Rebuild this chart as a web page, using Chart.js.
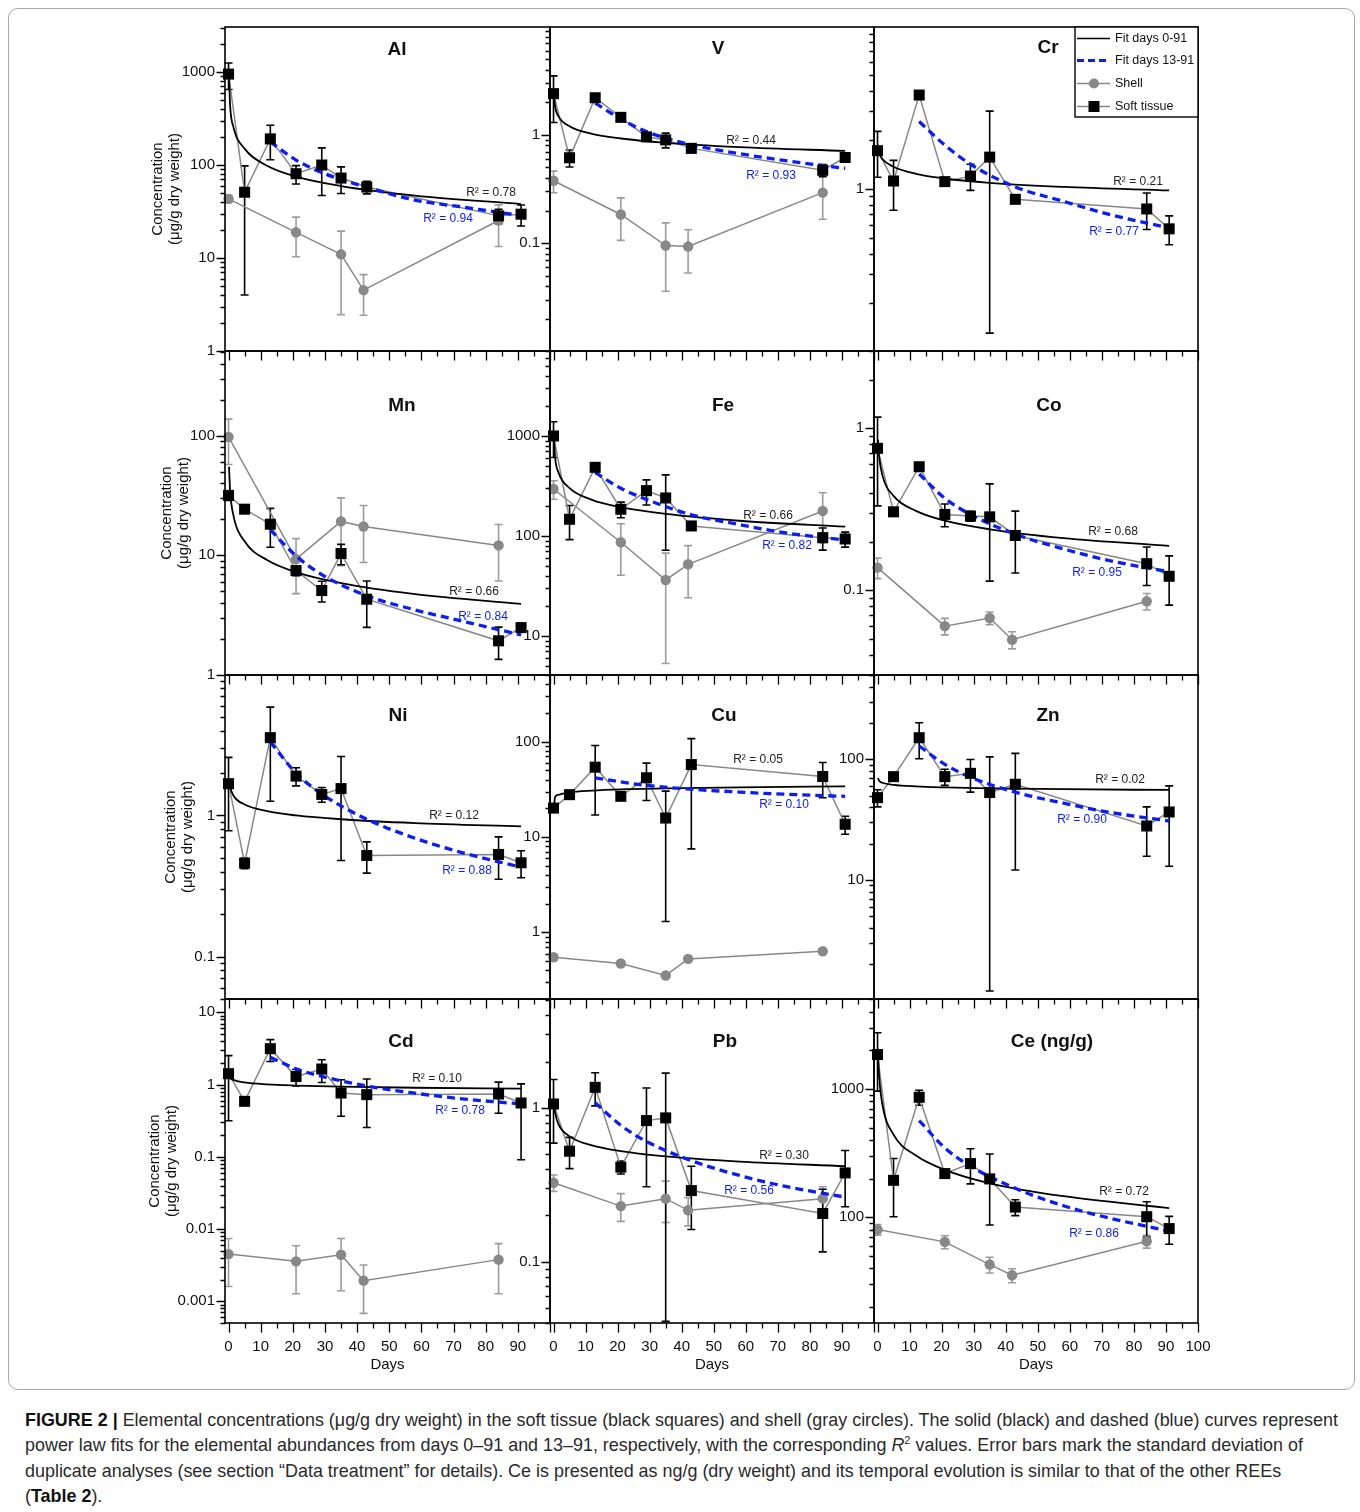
<!DOCTYPE html>
<html><head><meta charset="utf-8">
<script src="https://cdn.jsdelivr.net/npm/chart.js@4.4.1/dist/chart.umd.min.js"></script>
<style>
html,body{margin:0;padding:0;background:#fff;}
body{width:1360px;height:1512px;position:relative;overflow:hidden;font-family:"Liberation Sans",Arial,Helvetica,sans-serif;}
#frame{position:absolute;left:8px;top:8px;width:1347px;height:1382px;border:1.5px solid #a8a8a8;border-radius:10px;box-sizing:border-box;}
canvas{position:absolute;}
#caption{position:absolute;left:25px;top:1408px;font-size:16.6px;line-height:25.3px;color:#2a2a2a;white-space:nowrap;}
#caption b{color:#111;}
</style></head>
<body>
<div id="frame"></div>
<div id="caption">
<div id="cap1"><b>FIGURE 2 |</b> Elemental concentrations (μg/g dry weight) in the soft tissue (black squares) and shell (gray circles). The solid (black) and dashed (blue) curves represent</div>
<div>power law fits for the elemental abundances from days 0–91 and 13–91, respectively, with the corresponding <i>R</i><sup style="font-size:11px;line-height:0">2</sup> values. Error bars mark the standard deviation of</div>
<div>duplicate analyses (see section “Data treatment” for details). Ce is presented as ng/g (dry weight) and its temporal evolution is similar to that of the other REEs</div>
<div>(<b>Table 2</b>).</div>
</div>
<script>
Chart.defaults.font.family = '"Liberation Sans", Arial, Helvetica, sans-serif';
Chart.defaults.color = '#111';

// ---------- shared axes / categories ----------
const tissueDays = [0, 5, 13, 21, 29, 35, 43, 84, 91];
const shellDays = [0, 21, 35, 42, 84];
const fitAllDays = [0.15, 0.5, 1.5, 5, 12, 21, 35, 58, 91];
const fitLateDays = [13, 21, 29, 43, 58, 72, 91];
const xTickValues = [0,5,10,15,20,25,30,35,40,45,50,55,60,65,70,75,80,85,90,95,100];
const decadeLabels = ['0.001','0.01','0.1','1','10','100','1000'];
const decadeMinExp = -3;
const elements = ['Al','V','Cr','Mn','Fe','Co','Ni','Cu','Zn','Cd','Pb','Ce (ng/g)'];
const r2AllValues  = ['0.78','0.44','0.21','0.66','0.66','0.68','0.12','0.05','0.02','0.10','0.30','0.72'];
const r2LateValues = ['0.94','0.93','0.77','0.84','0.82','0.95','0.88','0.10','0.90','0.78','0.56','0.86'];
const legendLabels = ['Fit days 0-91','Fit days 13-91','Shell','Soft tissue'];
const yTitleLines = ['Concentration','(μg/g dry weight)'];

// ---------- Al ----------
const alTissue   = [950, 51, 191, 80.6, 100, 72.4, 58, 28.4, 29.6];
const alTissueSd = [300, 47, 77, 18, 53, 23, 9, 5, 7.5];
const alShell    = [43.3, 18.9, 10.96, 4.52, 25.3];
const alShellSd  = [4, 8.6, 8.5, 2.1, 12];
const alFitAll   = [900, 432, 258, 150, 98, 75, 59.4, 46.9, 38];
const alFitLate  = [177, 113, 83, 57.7, 42, 35.6, 28.6];
// ---------- V ----------
const vTissue   = [2.40, 0.614, 2.20, 1.45, 0.958, 0.898, 0.75, 0.471, 0.618];
const vTissueSd = [1.1, 0.11, 0.15, 0.05, 0.04, 0.14, 0.04, 0.06, 0.02];
const vShell    = [0.377, 0.184, 0.095, 0.093, 0.293];
const vShellSd  = [0.085, 0.078, 0.059, 0.04, 0.127];
const vFitAll   = [2.3, 1.81, 1.49, 1.2, 1.02, 0.925, 0.843, 0.77, 0.71];
const vFitLate  = [1.96, 1.40, 1.07, 0.81, 0.67, 0.58, 0.49];
// ---------- Cr ----------
const crTissue   = [1.72, 1.12, 3.78, 1.11, 1.20, 1.57, 0.864, 0.754, 0.569];
const crTissueSd = [0.54, 0.38, 0, 0, 0.22, 1.44, 0, 0.19, 0.115];
const crShell    = [];
const crShellSd  = [];
const crFitAll   = [1.75, 1.66, 1.53, 1.37, 1.24, 1.16, 1.09, 1.03, 0.98];
const crFitLate  = [2.6, 1.86, 1.42, 1.03, 0.84, 0.70, 0.577];
// ---------- Mn ----------
const mnTissue   = [31.7, 24.3, 18.2, 7.46, 5.08, 10.35, 4.3, 1.93, 2.49];
const mnTissueSd = [3, 0, 6.5, 0.7, 1.0, 2, 1.8, 0.58, 0];
const mnShell    = [97.5, 9.29, 19.2, 17.4, 12.1];
const mnShellSd  = [40, 4.5, 11, 8.7, 6];
const mnFitAll   = [55, 34.2, 21.7, 13.1, 9.13, 7.23, 5.85, 4.74, 3.93];
const mnFitLate  = [16.3, 9.9, 6.9, 4.6, 3.5, 2.85, 2.16];
// ---------- Fe ----------
const feTissue   = [1000, 147, 486, 185, 284, 240, 126, 96.2, 93.3];
const feTissueSd = [390, 55, 0, 33, 80, 168, 0, 24, 16];
const feShell    = [295, 86.5, 36.3, 52.1, 178];
const feShellSd  = [62, 46, 31, 28, 93];
const feFitAll   = [950, 609, 435, 301, 230, 194, 166, 142, 124];
const feFitLate  = [430, 300, 232, 163, 130, 108, 91];
// ---------- Co ----------
const coTissue   = [0.752, 0.305, 0.579, 0.294, 0.287, 0.284, 0.218, 0.146, 0.122];
const coTissueSd = [0.42, 0, 0, 0.047, 0.02, 0.17, 0.09, 0.039, 0.041];
const coShell    = [0.138, 0.0601, 0.0674, 0.0495, 0.0855];
const coShellSd  = [0.02, 0.007, 0.006, 0.006, 0.01];
const coFitAll   = [0.85, 0.673, 0.514, 0.383, 0.309, 0.269, 0.238, 0.21, 0.188];
const coFitLate  = [0.522, 0.37, 0.294, 0.222, 0.18, 0.153, 0.13];
// ---------- Ni ----------
const niTissue   = [1.68, 0.459, 3.56, 1.90, 1.41, 1.55, 0.52, 0.529, 0.462];
const niTissueSd = [0.9, 0.04, 2.3, 0.28, 0.17, 1.07, 0.13, 0.176, 0.1];
const niShell    = [];
const niShellSd  = [];
const niFitAll   = [1.72, 1.585, 1.385, 1.195, 1.073, 1.0, 0.94, 0.883, 0.836];
const niFitLate  = [3.31, 2.0, 1.42, 0.94, 0.69, 0.55, 0.43];
// ---------- Cu ----------
const cuTissue   = [20.1, 27.8, 54, 26.7, 41.8, 15.8, 57.5, 43.1, 13.6];
const cuTissueSd = [1, 0, 37, 0, 17.7, 14.5, 50, 17.3, 2.9];
const cuShell    = [0.548, 0.471, 0.353, 0.527, 0.634];
const cuShellSd  = [0.04, 0.03, 0.01, 0.03, 0.04];
const cuFitAll   = [21, 26.3, 27.7, 29.4, 30.7, 31.6, 32.3, 33.2, 33.9];
const cuFitLate  = [41.8, 37.8, 34.8, 31.7, 29.6, 28.1, 26.7];
// ---------- Zn ----------
const znTissue   = [48.1, 71.8, 151, 71.8, 76.5, 53, 62.1, 28, 36.6];
const znTissueSd = [7.8, 4, 50, 11, 23, 51.8, 50, 12.3, 23.6];
const znShell    = [];
const znShellSd  = [];
const znFitAll   = [70, 66.3, 63.9, 61.4, 59.6, 58.5, 57.5, 56.5, 55.7];
const znFitLate  = [129, 90.7, 71, 53.4, 43.3, 36.5, 30.8];
// ---------- Cd ----------
const cdTissue   = [1.415, 0.586, 3.14, 1.29, 1.64, 0.764, 0.725, 0.74, 0.556];
const cdTissueSd = [1.1, 0, 1.05, 0.33, 0.57, 0.4, 0.47, 0.34, 0.465];
const cdShell    = [0.0045, 0.00357, 0.0044, 0.00193, 0.00377];
const cdShellSd  = [0.0029, 0.0023, 0.003, 0.00125, 0.0025];
const cdFitAll   = [1.41, 1.25, 1.16, 1.07, 1.006, 0.969, 0.935, 0.903, 0.876];
const cdFitLate  = [2.38, 1.65, 1.30, 0.955, 0.76, 0.64, 0.538];
// ---------- Pb ----------
const pbTissue   = [1.06, 0.523, 1.36, 0.412, 0.827, 0.861, 0.29, 0.206, 0.378];
const pbTissueSd = [0.47, 0.12, 0.33, 0.04, 0.52, 0.82, 0.128, 0.09, 0.15];
const pbShell    = [0.326, 0.23, 0.257, 0.216, 0.257];
const pbShellSd  = [0.04, 0.047, 0.077, 0.045, 0.05];
const pbFitAll   = [1.06, 0.932, 0.786, 0.653, 0.571, 0.524, 0.484, 0.448, 0.418];
const pbFitLate  = [1.08, 0.77, 0.605, 0.454, 0.364, 0.31, 0.263];
// ---------- Ce (ng/g) ----------
const ceTissue   = [1852, 194, 861, 219, 262, 199, 120, 101, 81.6];
const ceTissueSd = [890, 93, 115, 0, 80, 112, 17, 31, 20];
const ceShell    = [80.2, 64.3, 42.8, 35.3, 65];
const ceShellSd  = [7.6, 7.5, 6, 4.4, 7.5];
const ceFitAll   = [1850, 1250, 760, 440, 303, 234, 184, 146, 118];
const ceFitLate  = [566, 347, 250, 168, 123, 99, 78];

// axis ranges (log y) per panel
const yMins = [1, 0.0101, 0.101, 1, 4.07, 0.03, 0.05, 0.2, 1.03, 0.0005, 0.04, 15];
const yMaxs = [3050, 9.9, 9.9, 510, 7080, 3, 9.9, 500, 500, 15.3, 5.1, 5020];

const tissueSets = [alTissue,vTissue,crTissue,mnTissue,feTissue,coTissue,niTissue,cuTissue,znTissue,cdTissue,pbTissue,ceTissue];
const tissueSdSets = [alTissueSd,vTissueSd,crTissueSd,mnTissueSd,feTissueSd,coTissueSd,niTissueSd,cuTissueSd,znTissueSd,cdTissueSd,pbTissueSd,ceTissueSd];
const shellSets = [alShell,vShell,crShell,mnShell,feShell,coShell,niShell,cuShell,znShell,cdShell,pbShell,ceShell];
const shellSdSets = [alShellSd,vShellSd,crShellSd,mnShellSd,feShellSd,coShellSd,niShellSd,cuShellSd,znShellSd,cdShellSd,pbShellSd,ceShellSd];
const fitAllSets = [alFitAll,vFitAll,crFitAll,mnFitAll,feFitAll,coFitAll,niFitAll,cuFitAll,znFitAll,cdFitAll,pbFitAll,ceFitAll];
const fitLateSets = [alFitLate,vFitLate,crFitLate,mnFitLate,feFitLate,coFitLate,niFitLate,cuFitLate,znFitLate,cdFitLate,pbFitLate,ceFitLate];

// ---------- layout (pixels) ----------
const colLeft = [225, 550, 874];
const colWidth = [325, 324, 324];
const rowTop = [27, 351, 675, 999];
const panelH = 324;
const titleOffsets = [[172,23],[168,22],[174,21],[177,55],[173,55],[175,55],[173,41],[174,41],[174,41],[176,43],[175,43],[178,43]];
const r2AllOffsets = [[266,166],[201,114],[264,155],[249,241],[218,165],[239,181],[229,141],[208,85],[246,105],[212,80],[234,157],[250,193]];
const r2LateOffsets = [[223,192],[221,149],[240,205],[258,266],[237,195],[223,222],[242,196],[234,130],[208,145],[235,112],[199,192],[220,235]];
const yTitlePad = [4.5, 13.5, 17.5, 1.5];

const GRAY = '#888888';
const EGRAY = '#9c9c9c';
const BLUE = '#0a1ef2';
const FONT = '"Liberation Sans", Arial, Helvetica, sans-serif';

function logTicks(min, max) {
  const out = [];
  for (let e = Math.floor(Math.log10(min)) - 1; e <= Math.ceil(Math.log10(max)); e++) {
    for (let m = 1; m <= 9; m++) {
      const v = m * Math.pow(10, e);
      if (v >= min * 0.99999 && v <= max * 1.00001) out.push({value: v});
    }
  }
  return out;
}
function decadeLabel(v) {
  const e = Math.round(Math.log10(v));
  if (Math.abs(v / Math.pow(10, e) - 1) > 1e-6) return '';
  return decadeLabels[e - decadeMinExp] || '';
}
function isDecade(v) { return decadeLabel(v) !== ''; }
const pts = (xs, ys) => ys.map((y, i) => ({x: xs[i], y}));

function drawErrors(ctx, xs, ys, area, days, vals, sds, color) {
  ctx.strokeStyle = color; ctx.lineWidth = 1.6;
  for (let i = 0; i < vals.length; i++) {
    const sd = sds[i];
    if (!sd) continue;
    const x = xs.getPixelForValue(days[i]);
    const hi = vals[i] + sd, lo = vals[i] - sd;
    const yT = ys.getPixelForValue(hi);
    const yB = lo > 0 ? ys.getPixelForValue(lo) : area.bottom + 5;
    ctx.beginPath();
    ctx.moveTo(x, yT); ctx.lineTo(x, yB);
    ctx.moveTo(x - 4, yT); ctx.lineTo(x + 4, yT);
    ctx.moveTo(x - 4, yB); ctx.lineTo(x + 4, yB);
    ctx.stroke();
  }
}

function makePlugin(k, col, row) {
  return {
    id: 'deco' + k,
    beforeDatasetsDraw(chart) {
      const {ctx, chartArea: a, scales: {x, y}} = chart;
      ctx.save();
      ctx.beginPath(); ctx.rect(a.left - 6, a.top, a.right - a.left + 12, a.bottom - a.top); ctx.clip();
      drawErrors(ctx, x, y, a, shellDays, shellSets[k], shellSdSets[k], EGRAY);
      drawErrors(ctx, x, y, a, tissueDays, tissueSets[k], tissueSdSets[k], '#000');
      ctx.restore();
    },
    afterDraw(chart) {
      const {ctx, chartArea: a, scales: {x, y}} = chart;
      ctx.save();
      ctx.strokeStyle = '#000'; ctx.lineWidth = 1.6;
      ctx.strokeRect(a.left, a.top, a.right - a.left, a.bottom - a.top);
      ctx.lineWidth = 1.3;
      ctx.beginPath();
      y.ticks.forEach(t => {
        const py = Math.round(y.getPixelForValue(t.value)) + 0.5;
        const len = isDecade(t.value) ? 8.5 : 4.5;
        ctx.moveTo(a.left - len, py); ctx.lineTo(a.left, py);
      });
      xTickValues.forEach(v => {
        const px = Math.round(x.getPixelForValue(v)) + 0.5;
        const len = v % 10 === 0 ? 9.5 : 5.5;
        ctx.moveTo(px, a.bottom); ctx.lineTo(px, a.bottom + len);
      });
      ctx.stroke();
      ctx.fillStyle = '#111';
      ctx.font = 'bold 19px ' + FONT;
      ctx.textAlign = 'center'; ctx.textBaseline = 'middle';
      ctx.fillText(elements[k], a.left + titleOffsets[k][0], a.top + titleOffsets[k][1]);
      ctx.font = '12px ' + FONT;
      ctx.fillStyle = '#222';
      ctx.fillText('R\u00b2 = ' + r2AllValues[k], a.left + r2AllOffsets[k][0], a.top + r2AllOffsets[k][1]);
      ctx.fillStyle = BLUE;
      ctx.fillText('R\u00b2 = ' + r2LateValues[k], a.left + r2LateOffsets[k][0], a.top + r2LateOffsets[k][1]);
      if (k === 2) {
        const L = a.left + 201, T = a.top, W = a.right - L, H = 90;
        ctx.fillStyle = '#fff'; ctx.fillRect(L, T, W, H);
        ctx.strokeStyle = '#000'; ctx.lineWidth = 1.4; ctx.strokeRect(L, T, W, H);
        const rows = [11.5, 33.5, 56.5, 79.5];
        const x0 = L + 2, x1 = L + 35, xm = L + 19;
        ctx.setLineDash([]); ctx.strokeStyle = '#000'; ctx.lineWidth = 1.5;
        ctx.beginPath(); ctx.moveTo(x0, T + rows[0]); ctx.lineTo(x1, T + rows[0]); ctx.stroke();
        ctx.setLineDash([7, 4]); ctx.strokeStyle = BLUE; ctx.lineWidth = 3;
        ctx.beginPath(); ctx.moveTo(x0, T + rows[1]); ctx.lineTo(x1, T + rows[1]); ctx.stroke();
        ctx.setLineDash([]);
        ctx.strokeStyle = GRAY; ctx.lineWidth = 1.5;
        ctx.beginPath(); ctx.moveTo(x0, T + rows[2]); ctx.lineTo(x1, T + rows[2]); ctx.stroke();
        ctx.fillStyle = GRAY; ctx.beginPath(); ctx.arc(xm, T + rows[2], 5, 0, Math.PI * 2); ctx.fill();
        ctx.beginPath(); ctx.moveTo(x0, T + rows[3]); ctx.lineTo(x1, T + rows[3]); ctx.stroke();
        ctx.fillStyle = '#000'; ctx.fillRect(xm - 5.5, T + rows[3] - 5.5, 11, 11);
        ctx.fillStyle = '#111'; ctx.font = '12.5px ' + FONT; ctx.textAlign = 'left';
        legendLabels.forEach((s, i) => ctx.fillText(s, L + 40, T + rows[i]));
      }
      ctx.restore();
    }
  };
}

function makePanel(k) {
  const col = k % 3, row = Math.floor(k / 3);
  const PL = colLeft[col], PT = rowTop[row], PW = colWidth[col];
  const ML = 80, MR = 30, MT = 26, MB = row === 3 ? 51 : 24;
  const cv = document.createElement('canvas');
  cv.width = PW + ML + MR; cv.height = panelH + MT + MB;
  cv.style.left = (PL - ML) + 'px'; cv.style.top = (PT - MT) + 'px';
  cv.style.width = cv.width + 'px'; cv.style.height = cv.height + 'px';
  document.body.appendChild(cv);
  const ymin = yMins[k], ymax = yMaxs[k];
  const fit = {xH: MB, yW: ML};
  const chart = new Chart(cv, {
    type: 'scatter',
    data: {
      datasets: [
        {label: 'Soft tissue', data: pts(tissueDays, tissueSets[k]), showLine: false, pointStyle: 'rect', pointRadius: 7.8,
         pointBackgroundColor: '#000', pointBorderColor: '#000', pointBorderWidth: 0, clip: 10},
        {label: 'Fit days 13-91', data: pts(fitLateDays, fitLateSets[k]), showLine: true, pointRadius: 0, borderColor: BLUE,
         borderWidth: 3.3, borderDash: [8, 5], cubicInterpolationMode: 'monotone', clip: 4},
        {label: 'Fit days 0-91', data: pts(fitAllDays, fitAllSets[k]), showLine: true, pointRadius: 0, borderColor: '#000',
         borderWidth: 1.8, cubicInterpolationMode: 'monotone', clip: 4},
        {label: 'tissue-line', data: pts(tissueDays, tissueSets[k]), showLine: true, pointRadius: 0, borderColor: GRAY,
         borderWidth: 1.5, clip: 4},
        {label: 'Shell', data: pts(shellDays, shellSets[k]), showLine: true, pointRadius: 5.2, pointStyle: 'circle',
         pointBackgroundColor: GRAY, pointBorderColor: GRAY, pointBorderWidth: 0, borderColor: GRAY, borderWidth: 1.5, clip: 10}
      ]
    },
    options: {
      responsive: false, animation: false, devicePixelRatio: 1, events: [],
      layout: {padding: {left: 0, top: MT, right: MR, bottom: 0}},
      plugins: {legend: {display: false}, tooltip: {enabled: false}},
      scales: {
        x: {
          type: 'linear', min: -1.1, max: 100,
          afterBuildTicks: s => { s.ticks = xTickValues.map(v => ({value: v})); },
          afterFit: s => { s.height = fit.xH; },
          grid: {display: false, drawTicks: false}, border: {display: false},
          ticks: {display: row === 3, autoSkip: false, maxRotation: 0, padding: 15, font: {size: 15}, color: '#111',
                  callback: v => (v % 10 === 0 && (v < 100 || col === 2)) ? String(v) : ''},
          title: {display: row === 3, text: 'Days', font: {size: 15}, color: '#111', padding: {top: 0, bottom: 0}}
        },
        y: {
          type: 'logarithmic', min: ymin, max: ymax,
          afterBuildTicks: s => { s.ticks = logTicks(ymin, ymax); },
          afterFit: s => { s.width = fit.yW; },
          grid: {display: false, drawTicks: false}, border: {display: false},
          ticks: {autoSkip: false, padding: 10, font: {size: 15}, color: '#111', callback: v => decadeLabel(v)},
          title: {display: col === 0, text: yTitleLines, font: {size: 15, lineHeight: 1.13}, color: '#111',
                  padding: {top: yTitlePad[row], bottom: 0}}
        }
      }
    },
    plugins: [makePlugin(k, col, row)]
  });
  // align the plotting area exactly with the panel box
  const pad = {left: 0, top: MT, right: MR, bottom: 0};
  for (let it = 0; it < 4; it++) {
    const ca = chart.chartArea;
    const dT = ca.top - MT, dB = (MT + panelH) - ca.bottom, dL = ca.left - ML, dR = (ML + PW) - ca.right;
    if (Math.abs(dT) + Math.abs(dB) + Math.abs(dL) + Math.abs(dR) < 0.3) break;
    pad.top -= dT; pad.right -= dR; fit.xH -= dB; fit.yW -= dL;
    chart.options.layout.padding = {left: pad.left, top: pad.top, right: pad.right, bottom: pad.bottom};
    chart.update('none');
  }
}
for (let k = 0; k < 12; k++) makePanel(k);

(function () {
  const c1 = document.getElementById('cap1');
  const cap = document.getElementById('caption');
  const w = c1.getBoundingClientRect().width;
  const fs = parseFloat(getComputedStyle(cap).fontSize);
  cap.style.fontSize = (fs * 1313 / w).toFixed(2) + 'px';
})();
</script>
</body></html>
